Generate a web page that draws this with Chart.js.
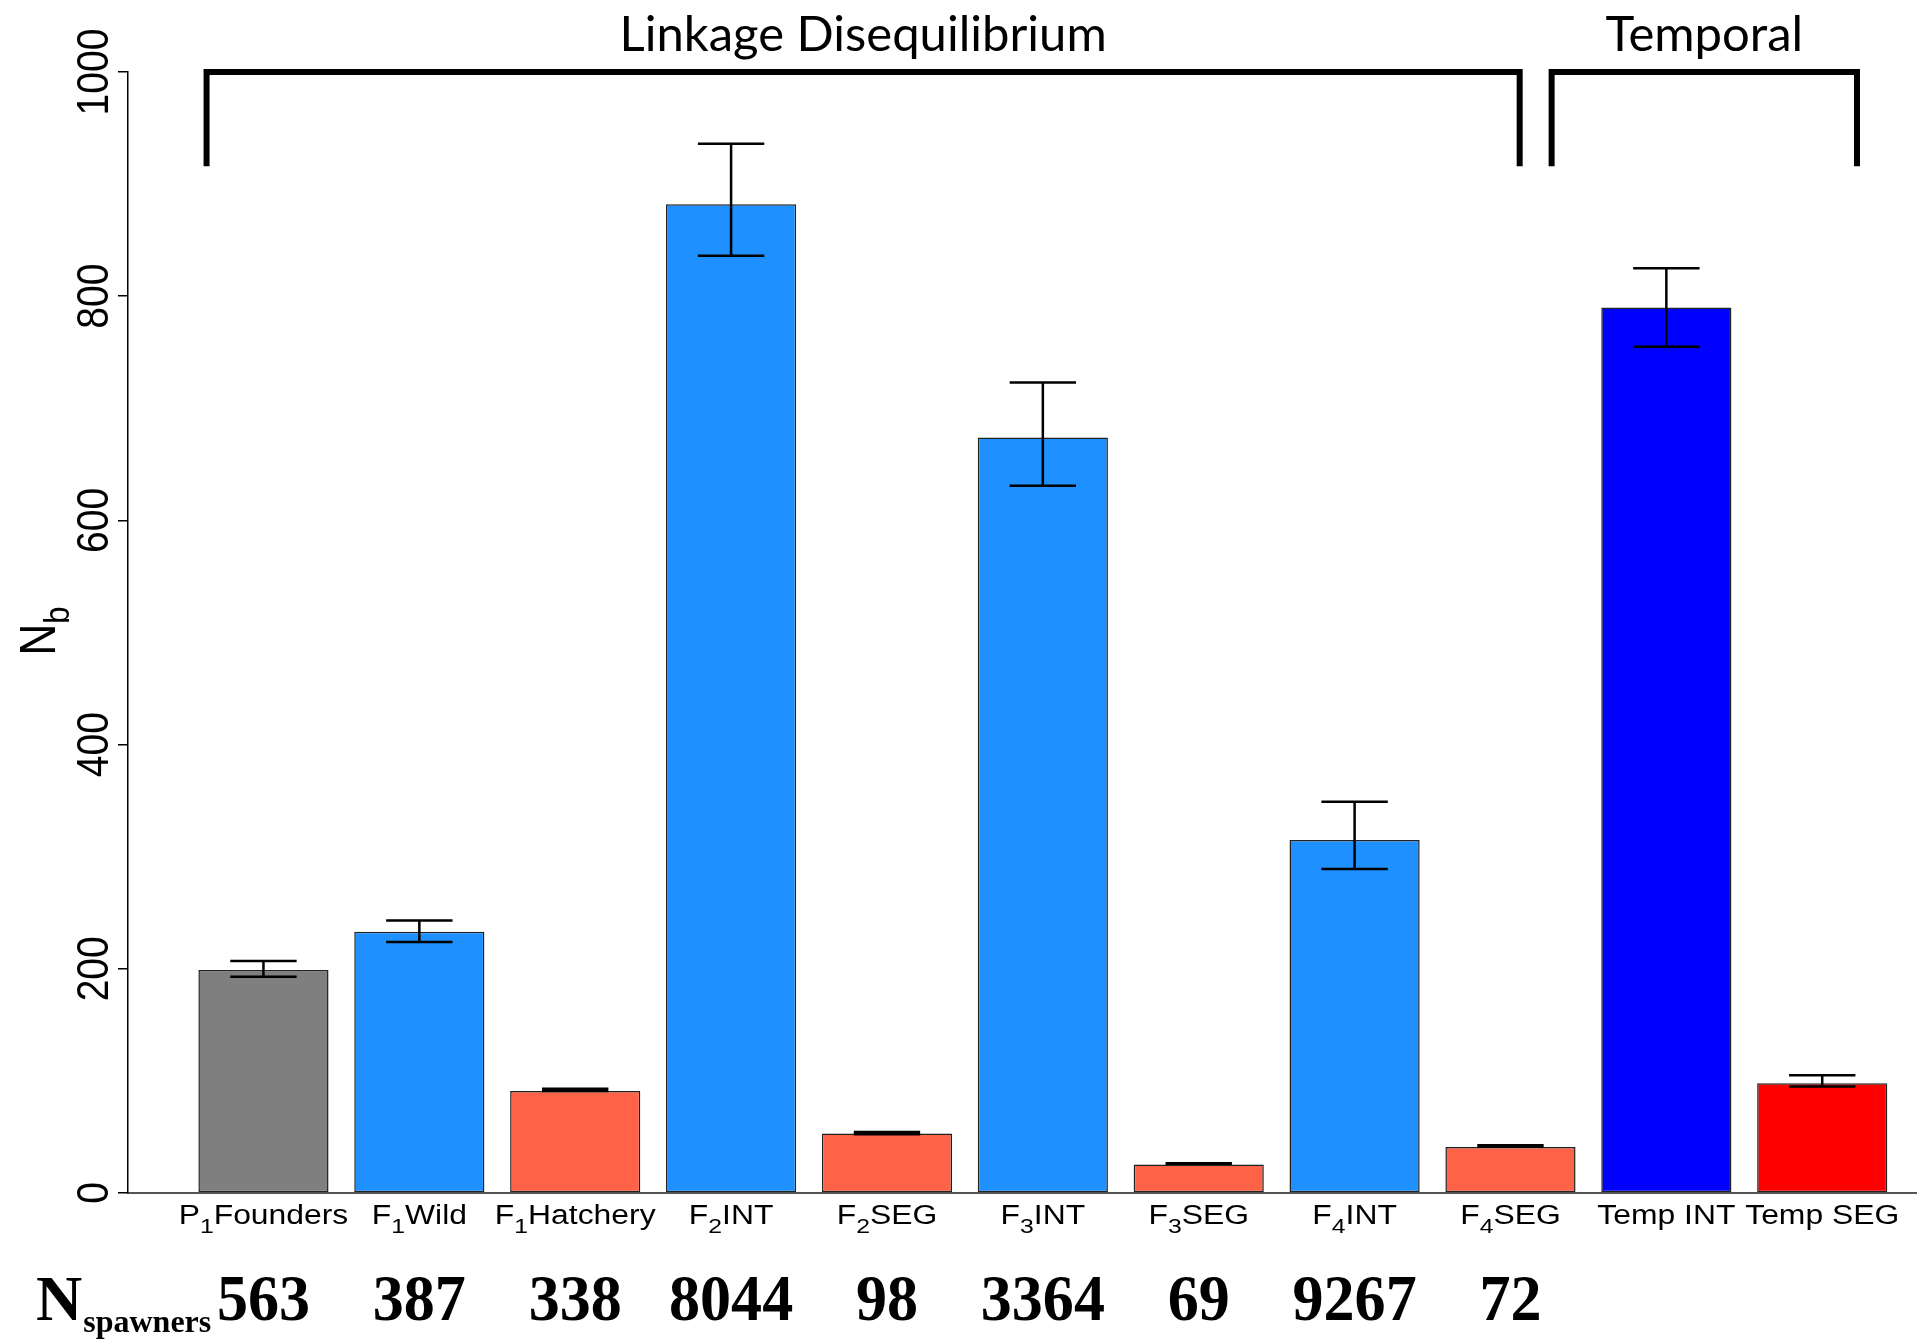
<!DOCTYPE html>
<html><head><meta charset="utf-8">
<script src="https://cdn.jsdelivr.net/npm/chart.js@4.4.1/dist/chart.umd.min.js"></script>
<style>html,body{margin:0;padding:0;background:#fff;} #wrap{width:1917px;height:1340px;position:relative;}</style>
</head><body><div id="wrap"><canvas id="c" width="1917" height="1340"></canvas></div>
<script>
// ---- data ----
const labelBase = ['P','F','F','F','F','F','F','F','F','Temp INT','Temp SEG'];
const labelSub  = ['1','1','1','2','2','3','3','4','4','',''];
const labelTail = ['Founders','Wild','Hatchery','INT','SEG','INT','SEG','INT','SEG','',''];
const nb     = [199, 233, 91, 882, 53, 674, 25.5, 315, 41, 790, 98];
const nbLow  = [193, 224, 91, 836, 52.5, 631, 26, 289, 41.5, 755, 95];
const nbHigh = [207, 243, 93, 936, 54.5, 723, 26.5, 349, 42.5, 825, 105];
const nSpawners = [563, 387, 338, 8044, 98, 3364, 69, 9267, 72, null, null];
const yTicks = [0, 200, 400, 600, 800, 1000];
const barColors = ['#7F7F7F','#1E90FF','#FF6347','#1E90FF','#FF6347','#1E90FF','#FF6347','#1E90FF','#FF6347','#0000FF','#FF0000'];
const groupTitles = ['Linkage Disequilibrium', 'Temporal'];

// ---- annotation layout (x in category units, y in data units) ----
const bracketSpans = [[-0.365, 8.059], [8.264, 10.223]];
const bracketTop = 1000, bracketFoot = 916;

const SANS = "'Liberation Sans', Arial, sans-serif";
const SERIF = "'Liberation Serif', 'Times New Roman', serif";
const TITLE = "Lato, 'Open Sans', sans-serif";
const HSTRETCH = 1.18;

const overlay = {
  id: 'overlay',
  afterDatasetsDraw(chart) {
    const ctx = chart.ctx, ys = chart.scales.y;
    const meta = chart.getDatasetMeta(0);
    ctx.save();
    ctx.strokeStyle = '#000';
    ctx.lineWidth = 2.5;
    meta.data.forEach((bar, i) => {
      const x = bar.x, hw = bar.width * 0.255;
      const yl = ys.getPixelForValue(nbLow[i]), yh = ys.getPixelForValue(nbHigh[i]);
      ctx.beginPath();
      ctx.moveTo(x, yl); ctx.lineTo(x, yh);
      ctx.moveTo(x - hw, yl); ctx.lineTo(x + hw, yl);
      ctx.moveTo(x - hw, yh); ctx.lineTo(x + hw, yh);
      ctx.stroke();
    });
    ctx.restore();
  },
  afterDraw(chart) {
    const ctx = chart.ctx, xs = chart.scales.x, ys = chart.scales.y;
    ctx.save();
    ctx.fillStyle = '#000';

    // x category labels with subscripts
    const fs = 27, sfs = Math.round(fs * 0.78);
    labelBase.forEach((b, i) => {
      const cx = xs.getPixelForValue(i);
      ctx.font = fs + 'px ' + SANS;
      const wb = ctx.measureText(b).width, wt = ctx.measureText(labelTail[i]).width;
      ctx.font = sfs + 'px ' + SANS;
      const ws = ctx.measureText(labelSub[i]).width;
      const total = wb + ws + wt;
      ctx.save();
      ctx.translate(cx, 1224);
      ctx.scale(HSTRETCH, 1);
      ctx.textBaseline = 'alphabetic'; ctx.textAlign = 'left';
      let x0 = -total / 2;
      ctx.font = fs + 'px ' + SANS;
      ctx.fillText(b, x0, 0);
      ctx.font = sfs + 'px ' + SANS;
      ctx.fillText(labelSub[i], x0 + wb, fs * 0.33);
      ctx.font = fs + 'px ' + SANS;
      ctx.fillText(labelTail[i], x0 + wb + ws, 0);
      ctx.restore();
    });

    // y tick labels (rotated)
    const tf = 39;
    yTicks.forEach(v => {
      const py = ys.getPixelForValue(v);
      ctx.save();
      ctx.translate(92, py);
      ctx.rotate(-Math.PI / 2);
      ctx.scale(1, 1.15);
      ctx.font = tf + 'px ' + SANS;
      ctx.textAlign = 'center'; ctx.textBaseline = 'alphabetic';
      ctx.fillText(String(v), 0, tf * 0.358);
      ctx.restore();
    });

    // y axis title N_b
    {
      const f = 44;
      ctx.save();
      ctx.translate(37, 631);
      ctx.rotate(-Math.PI / 2);
      ctx.scale(1, 1.15);
      ctx.font = f + 'px ' + SANS;
      const wN = ctx.measureText('N').width;
      ctx.font = Math.round(f * 0.7) + 'px ' + SANS;
      const wb = ctx.measureText('b').width;
      const x0 = -(wN + wb) / 2;
      ctx.textAlign = 'left'; ctx.textBaseline = 'alphabetic';
      ctx.font = f + 'px ' + SANS;
      ctx.fillText('N', x0, f * 0.358);
      ctx.font = Math.round(f * 0.7) + 'px ' + SANS;
      ctx.fillText('b', x0 + wN, f * 0.358 + f * 0.28);
      ctx.restore();
    }

    // brackets and group titles
    ctx.strokeStyle = '#000';
    ctx.lineWidth = 6;
    ctx.lineJoin = 'miter';
    ctx.lineCap = 'butt';
    const yt = ys.getPixelForValue(bracketTop), yf = ys.getPixelForValue(bracketFoot);
    bracketSpans.forEach((s, k) => {
      const x1 = xs.getPixelForValue(s[0]), x2 = xs.getPixelForValue(s[1]);
      ctx.beginPath();
      ctx.moveTo(x1, yf); ctx.lineTo(x1, yt); ctx.lineTo(x2, yt); ctx.lineTo(x2, yf);
      ctx.stroke();
      ctx.font = '49px ' + TITLE;
      ctx.textAlign = 'center'; ctx.textBaseline = 'alphabetic';
      ctx.fillText(groupTitles[k], (x1 + x2) / 2, 51);
    });

    // N spawners row
    {
      const f = 64;
      ctx.textAlign = 'left'; ctx.textBaseline = 'alphabetic';
      ctx.font = 'bold ' + f + 'px ' + SERIF;
      ctx.fillText('N', 36, 1320);
      const wN = ctx.measureText('N').width;
      ctx.font = 'bold 32px ' + SERIF;
      ctx.fillText('spawners', 36 + wN + 1, 1332);
      ctx.font = 'bold ' + f + 'px ' + SERIF;
      ctx.textAlign = 'center';
      nSpawners.forEach((n, i) => {
        if (n == null) return;
        ctx.save();
        ctx.translate(xs.getPixelForValue(i), 1320);
        ctx.scale(0.97, 1.04);
        ctx.fillText(String(n), 0, 0);
        ctx.restore();
      });
    }
    ctx.restore();
  }
};

new Chart(document.getElementById('c').getContext('2d'), {
  type: 'bar',
  data: {
    datasets: [{
      data: nb.map((v, i) => ({ x: i, y: v })),
      backgroundColor: barColors,
      borderColor: '#222',
      borderWidth: 1.5,
      borderSkipped: false,
      barPercentage: 0.835,
      categoryPercentage: 1
    }]
  },
  options: {
    responsive: false,
    animation: false,
    events: [],
    layout: { padding: { top: 72, left: 0, right: 0, bottom: 0 } },
    plugins: { legend: { display: false }, tooltip: { enabled: false } },
    scales: {
      x: {
        type: 'linear', min: -0.869, max: 10.608, offset: false,
        grid: { display: false },
        ticks: { display: false },
        border: { display: true, color: '#555', width: 2 },
        afterBuildTicks: s => { s.ticks = nb.map((_, i) => ({ value: i })); },
        afterFit: s => { s.height = 147; }
      },
      y: {
        min: 0, max: 1000,
        afterBuildTicks: s => { s.ticks = yTicks.map(v => ({ value: v })); },
        ticks: { display: false },
        grid: { drawOnChartArea: false, drawTicks: true, tickLength: 10, color: '#000', lineWidth: 1.5 },
        border: { display: true, color: '#000', width: 1.5 },
        afterFit: s => { s.width = 128; }
      }
    }
  },
  plugins: [overlay]
});
</script>
</body></html>
